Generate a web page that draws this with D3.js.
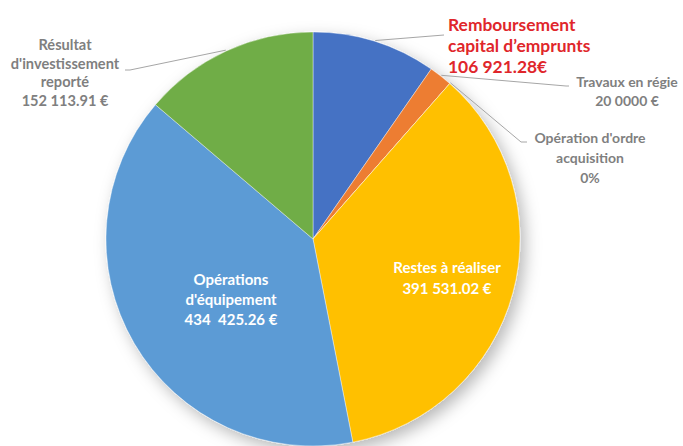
<!DOCTYPE html>
<html>
<head>
<meta charset="utf-8">
<script src="https://cdn.jsdelivr.net/npm/d3@7"></script>
<style>
  html, body { margin: 0; padding: 0; background: #ffffff; }
  svg { display: block; }
  text { font-family: Lato, "Open Sans", sans-serif; font-weight: bold; }
</style>
</head>
<body>
<svg id="chart" width="683" height="446"></svg>
<script>
// ---- data ----
const categories = [
  "Remboursement capital d’emprunts",
  "Travaux en régie",
  "Opération d'ordre acquisition",
  "Restes à réaliser",
  "Opérations d'équipement",
  "Résultat d'investissement reporté"
];
const values = [106921.28, 20000, 0, 391531.02, 434425.26, 152113.91];
const colors = ["#4472C4", "#ED7D31", "#A5A5A5", "#FFC000", "#5B9BD5", "#70AD47"];
const labelLines = [
  ["Remboursement", "capital d’emprunts", "106 921.28€"],
  ["Travaux en régie", "20 0000 €"],
  ["Opération d'ordre", "acquisition", "0%"],
  ["Restes à réaliser", "391 531.02 €"],
  ["Opérations", "d'équipement", "434  425.26 €"],
  ["Résultat", "d'investissement", "reporté", "152 113.91 €"]
];

// ---- layout ----
const svg = d3.select("#chart");
const cx = 313, cy = 239, R = 207;

const defs = svg.append("defs");
const f = defs.append("filter").attr("id", "shadow")
  .attr("x", "-20%").attr("y", "-20%").attr("width", "140%").attr("height", "140%");
f.append("feDropShadow").attr("dx", 5).attr("dy", 6).attr("stdDeviation", 8)
  .attr("flood-color", "#000").attr("flood-opacity", 0.28);

const pie = d3.pie().sort(null).value(d => d);
const arcs = pie(values);
const arc = d3.arc().innerRadius(0).outerRadius(R);

const g = svg.append("g").attr("transform", `translate(${cx},${cy})`);
g.append("g").attr("filter", "url(#shadow)")
  .selectAll("path").data(arcs).enter().append("path")
  .attr("d", arc)
  .attr("fill", (d, i) => colors[i])
  .attr("stroke", "#ffffff").attr("stroke-width", 0.4);

function edgePoint(d, angle) {
  const a = angle === undefined ? (d.startAngle + d.endAngle) / 2 : angle;
  return [cx + (R + 1) * Math.sin(a), cy - (R + 1) * Math.cos(a)];
}

const specs = [
  { i: 0, anchor: "start", x: 448, y: 31, lh: 21, color: "#E0262B", size: 17.4,
    leader: p => [p, [444, 35]] },
  { i: 1, anchor: "middle", x: 627, y: 87, lh: 18.5, color: "#7F7F7F", size: 14,
    leader: p => [p, [566, 86], [569, 86]] },
  { i: 2, anchor: "middle", x: 590, y: 143, lh: 20, color: "#7F7F7F", size: 14,
    leader: p => [p, [521, 142], [527, 142]] },
  { i: 3, anchor: "middle", x: 447, y: 273, lh: 21, color: "#FFFFFF", size: 15 },
  { i: 4, anchor: "middle", x: 231, y: 285, lh: 20, color: "#FFFFFF", size: 15 },
  { i: 5, anchor: "middle", x: 65, y: 50, lh: 18.5, color: "#7F7F7F", size: 14.6,
    leader: p => [[125, 70], [130, 70], p] }
];

const line = d3.line();
specs.forEach(s => {
  const d = arcs[s.i];
  if (s.leader) {
    const p = d.endAngle - d.startAngle < 1e-6 ? edgePoint(d, d.startAngle) : edgePoint(d);
    svg.append("path")
      .attr("d", line(s.leader(p)))
      .attr("fill", "none")
      .attr("stroke", "#A6A6A6")
      .attr("stroke-width", 1);
  }
  const t = svg.append("text")
    .attr("text-anchor", s.anchor)
    .attr("fill", s.color)
    .attr("font-size", s.size);
  labelLines[s.i].forEach((ln, k) => {
    t.append("tspan").attr("x", s.x).attr("y", s.y + k * s.lh)
      .attr("xml:space", "preserve")
      .style("white-space", "pre")
      .text(ln);
  });
});
</script>
</body>
</html>
